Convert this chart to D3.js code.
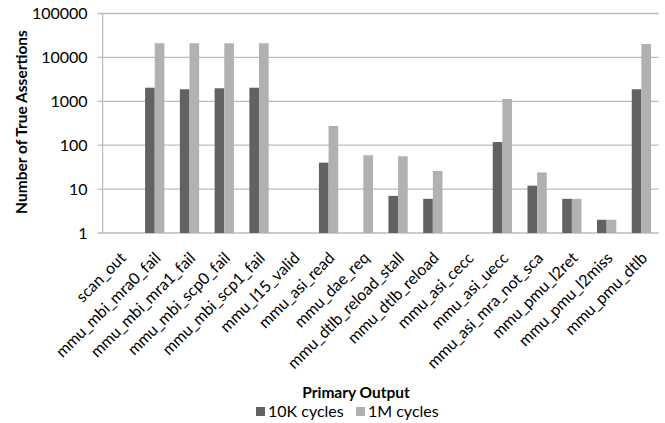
<!DOCTYPE html>
<html><head><meta charset="utf-8">
<script src="https://cdn.jsdelivr.net/npm/d3@7"></script>
<style>body{margin:0;background:#fff}svg{display:block;font-family:Lato,"Open Sans",sans-serif}</style>
</head><body><svg id="c" width="665" height="423"></svg>
<script>
const categories = ["scan_out","mmu_mbi_mra0_fail","mmu_mbi_mra1_fail","mmu_mbi_scp0_fail","mmu_mbi_scp1_fail","mmu_l15_valid","mmu_asi_read","mmu_dae_req","mmu_dtlb_reload_stall","mmu_dtlb_reload","mmu_asi_cecc","mmu_asi_uecc","mmu_asi_mra_not_sca","mmu_pmu_l2ret","mmu_pmu_l2miss","mmu_pmu_dtlb"];
const series = ["10K cycles","1M cycles"];
const values10K = [null,2040,1880,1980,2040,null,40,null,7,6,null,118,12,6,2,1880];
const values1M  = [null,21000,21000,21000,21000,null,274,59,56,26,null,1130,24,6,2,20200];
const yTicks = [1,10,100,1000,10000,100000];
const colors = ["#626262","#b1b1b1"];

const svg = d3.select("#c");
const L = 102.6, R = 658.8, T = 13.5, B = 233;
const x0 = d3.scaleBand().domain(categories).range([L,R]).paddingInner(0.445).paddingOuter(0.2225);
const x1 = d3.scaleBand().domain(series).range([0,x0.bandwidth()]);
const y = d3.scaleLog().domain([1,100000]).range([B,T]);

// gridlines
svg.append("g").selectAll("line").data(yTicks).join("line")
  .attr("x1",L-5).attr("x2",R).attr("y1",d=>y(d)).attr("y2",d=>y(d))
  .attr("stroke","#bdbdbd").attr("stroke-width",1.3);
// y axis line
svg.append("line").attr("x1",L).attr("x2",L).attr("y1",T).attr("y2",B).attr("stroke","#bdbdbd").attr("stroke-width",1.3);

// y labels
const yAxis = d3.axisLeft(y).tickValues(yTicks).tickFormat(d3.format("d")).tickSize(0).tickPadding(15);
const ga = svg.append("g").attr("transform",`translate(${L},0)`).call(yAxis);
ga.select(".domain").remove();
ga.selectAll("text").attr("font-size",16).attr("fill","#000").attr("font-family","Lato");

// bars
const data = categories.map((c,i)=>({c, v:[values10K[i],values1M[i]]}));
const grp = svg.append("g").selectAll("g").data(data).join("g").attr("transform",d=>`translate(${x0(d.c)},0)`);
grp.selectAll("rect").data(d=>d.v.map((v,j)=>({s:series[j],v,j})).filter(e=>e.v!=null)).join("rect")
  .attr("x",e=>x1(e.s)).attr("width",x1.bandwidth())
  .attr("y",e=>y(e.v)).attr("height",e=>B-y(e.v))
  .attr("fill",e=>colors[e.j]);

// x labels
svg.append("g").selectAll("text").data(categories).join("text")
  .attr("transform",c=>`translate(${x0(c)+x0.bandwidth()/2+7},259) rotate(-45)`)
  .attr("text-anchor","end").attr("font-size",16).attr("fill","#000").text(c=>c);

// axis titles
svg.append("text").attr("transform","translate(27,122) rotate(-90)").attr("text-anchor","middle")
  .attr("font-size",15.5).attr("font-weight","bold").text("Number of True Assertions");
svg.append("text").attr("x",356).attr("y",398).attr("text-anchor","middle")
  .attr("font-size",15.5).attr("font-weight","bold").text("Primary Output");

// legend
const lg = svg.append("g").selectAll("g").data(series).join("g")
  .attr("transform",(d,i)=>`translate(${256+i*100},0)`);
lg.append("rect").attr("x",0).attr("y",407).attr("width",9).attr("height",9).attr("fill",(d,i)=>colors[i]);
lg.append("text").attr("x",12).attr("y",417).attr("font-size",16).text(d=>d);
</script></body></html>
